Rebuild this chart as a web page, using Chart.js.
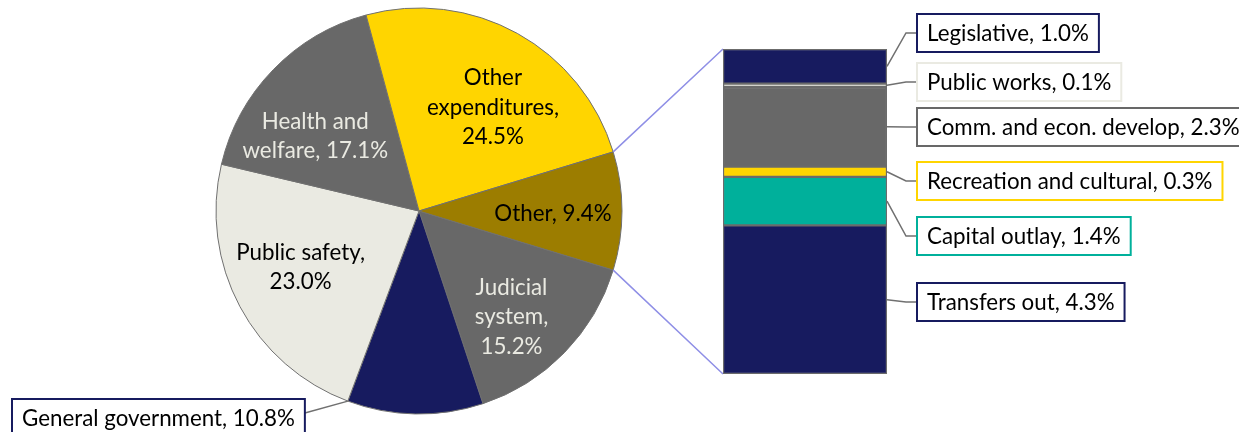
<!DOCTYPE html>
<html>
<head>
<meta charset="utf-8">
<script src="https://cdn.jsdelivr.net/npm/chart.js@4.4.0/dist/chart.umd.min.js"></script>
<style>
html, body { margin: 0; padding: 0; background: #fff; }
#wrap { position: relative; width: 1239px; height: 432px; overflow: hidden; }
#wrap canvas { position: absolute; left: 0; top: 0; }
</style>
</head>
<body>
<div id="wrap">
    <canvas id="pie" width="1239" height="432"></canvas>
    <canvas id="bar" width="1239" height="432"></canvas>
</div>
<script>
// pie (clockwise, starting right after the "Other" slice)
const pieLabels = ['Judicial\nsystem', 'General government', 'Public safety', 'Health and\nwelfare', 'Other\nexpenditures', 'Other'];
const pieValues = [15.2, 10.8, 23.0, 17.1, 24.5, 9.4];
const pieColors = ['#686868', '#171B5F', '#EAEAE2', '#686868', '#FFD500', '#9C7D00'];
const pieTextColors = ['#EAEAE2', '#000000', '#000000', '#EAEAE2', '#000000', '#000000'];
const pieBreak = [true, false, true, false, true, false]; // value on its own line

// bar of "Other" (top to bottom)
const barLabels = ['Legislative', 'Public works', 'Comm. and econ. develop', 'Recreation and cultural', 'Capital outlay', 'Transfers out'];
const barValues = [1.0, 0.1, 2.3, 0.3, 1.4, 4.3];
const barColors = ['#171B5F', '#EAEAE2', '#686868', '#FFD500', '#00B09B', '#171B5F'];

const FONT = 'Lato';
const mctx = document.createElement('canvas').getContext('2d');
mctx.font = '100px ' + FONT;
const fontPx = 100 * 273 / mctx.measureText('General government, 10.8%').width;
const fontStr = fontPx.toFixed(2) + 'px ' + FONT;

function pct(v) { return v.toFixed(1) + '%'; }

function pieText(i) {
    const lines = pieLabels[i].split('\n');
    lines[lines.length - 1] += ',';
    if (pieBreak[i]) lines.push(pct(pieValues[i]));
    else lines[lines.length - 1] += ' ' + pct(pieValues[i]);
    return lines;
}

// label nudges relative to 0.65 r on the mid angle
const pieNudge = [[-2, 14], [0, 0], [-2, -6], [-9, 17], [10, 12], [2, 3]];
const pieOutside = [false, true, false, false, false, false];

const pieLabelPlugin = {
    id: 'pieLabels',
    afterDatasetsDraw(chart) {
        const ctx = chart.ctx;
        const meta = chart.getDatasetMeta(0);
        ctx.save();
        ctx.font = fontStr;
        ctx.textBaseline = 'middle';
        meta.data.forEach((arc, i) => {
            const lines = pieText(i);
            if (pieOutside[i]) {
                const a = arc.endAngle;
                const px = arc.x + arc.outerRadius * Math.cos(a);
                const py = arc.y + arc.outerRadius * Math.sin(a);
                const w = ctx.measureText(lines[0]).width + 20;
                const bx = 12, by = 399, bh = 38;
                ctx.strokeStyle = '#707070';
                ctx.lineWidth = 1.5;
                ctx.beginPath();
                ctx.moveTo(px, py);
                ctx.lineTo(bx + w, by + 14);
                ctx.stroke();
                ctx.fillStyle = '#fff';
                ctx.fillRect(bx, by, w, bh);
                ctx.strokeStyle = pieColors[i];
                ctx.lineWidth = 2;
                ctx.strokeRect(bx, by, w, bh);
                ctx.fillStyle = '#000';
                ctx.textAlign = 'left';
                ctx.fillText(lines[0], bx + 10, by + bh / 2 + 1);
                return;
            }
            const mid = (arc.startAngle + arc.endAngle) / 2;
            const r = arc.outerRadius * 0.65;
            const cx = arc.x + r * Math.cos(mid) + pieNudge[i][0];
            const cy = arc.y + r * Math.sin(mid) + pieNudge[i][1];
            const lh = 29.5;
            ctx.fillStyle = pieTextColors[i];
            ctx.textAlign = 'center';
            lines.forEach((t, k) => {
                ctx.fillText(t, cx, cy + (k - (lines.length - 1) / 2) * lh);
            });
        });
        ctx.restore();
    }
};

const otherIdx = pieValues.length - 1;
const pieChart = new Chart(document.getElementById('pie').getContext('2d'), {
    type: 'pie',
    data: {
        labels: pieLabels,
        datasets: [{
            data: pieValues,
            backgroundColor: pieColors,
            borderColor: '#707070',
            borderWidth: 1,
            hoverOffset: 0
        }]
    },
    options: {
        responsive: false,
        animation: false,
        events: [],
        rotation: 90 + pieValues[otherIdx] * 3.6 / 2,
        layout: { padding: { left: 215.5, right: 616.5, top: 7.5, bottom: 17.5 } },
        plugins: { legend: { display: false }, tooltip: { enabled: false } }
    },
    plugins: [pieLabelPlugin]
});

// label boxes for the bar: centre y of each box
const barBoxY = [33, 82, 127, 181, 236, 302];

const barLabelPlugin = {
    id: 'barLabels',
    beforeDatasetsDraw(chart) {
        // connector lines from the "Other" slice to the bar
        const ctx = chart.ctx;
        const arc = pieChart.getDatasetMeta(0).data[otherIdx];
        const area = chart.chartArea;
        ctx.save();
        ctx.strokeStyle = '#8F8FE6';
        ctx.lineWidth = 1.5;
        ctx.beginPath();
        ctx.moveTo(arc.x + arc.outerRadius * Math.cos(arc.startAngle), arc.y + arc.outerRadius * Math.sin(arc.startAngle));
        ctx.lineTo(area.left, area.top);
        ctx.moveTo(arc.x + arc.outerRadius * Math.cos(arc.endAngle), arc.y + arc.outerRadius * Math.sin(arc.endAngle));
        ctx.lineTo(area.left, area.bottom);
        ctx.stroke();
        ctx.restore();
    },
    afterDatasetsDraw(chart) {
        const ctx = chart.ctx;
        ctx.save();
        ctx.font = fontStr;
        ctx.textBaseline = 'middle';
        ctx.textAlign = 'left';
        const n = barValues.length;
        barValues.forEach((v, i) => {
            const el = chart.getDatasetMeta(n - 1 - i).data[0];
            const segY = (el.y + el.base) / 2;
            const x0 = el.x + el.width / 2;
            const bx = 917, bh = 38;
            const by = barBoxY[i] - bh / 2;
            const text = barLabels[i] + ', ' + pct(v);
            const w = ctx.measureText(text).width + 20;
            ctx.strokeStyle = '#707070';
            ctx.lineWidth = 1.5;
            ctx.beginPath();
            ctx.moveTo(x0, segY);
            ctx.lineTo(bx - 11, barBoxY[i]);
            ctx.lineTo(bx, barBoxY[i]);
            ctx.stroke();
            ctx.fillStyle = '#fff';
            ctx.fillRect(bx, by, w, bh);
            ctx.strokeStyle = barColors[i];
            ctx.lineWidth = 2;
            ctx.strokeRect(bx, by, w, bh);
            ctx.fillStyle = '#000';
            ctx.fillText(text, bx + 10, barBoxY[i] + 1);
        });
        ctx.restore();
    }
};

const total = barValues.reduce((a, b) => a + b, 0);
new Chart(document.getElementById('bar').getContext('2d'), {
    type: 'bar',
    data: {
        labels: ['Other'],
        datasets: barValues.map((v, i) => ({
            label: barLabels[i],
            data: [v],
            backgroundColor: barColors[i],
            borderColor: '#6B6B6B',
            borderWidth: 1.5,
            borderSkipped: false
        })).reverse()
    },
    options: {
        responsive: false,
        animation: false,
        events: [],
        datasets: { bar: { barPercentage: 1, categoryPercentage: 1 } },
        layout: { padding: { left: 723, right: 352, top: 49, bottom: 58 } },
        scales: {
            x: { stacked: true, display: false },
            y: { stacked: true, display: false, min: 0, max: total }
        },
        plugins: { legend: { display: false }, tooltip: { enabled: false } }
    },
    plugins: [barLabelPlugin]
});
</script>
</body>
</html>
